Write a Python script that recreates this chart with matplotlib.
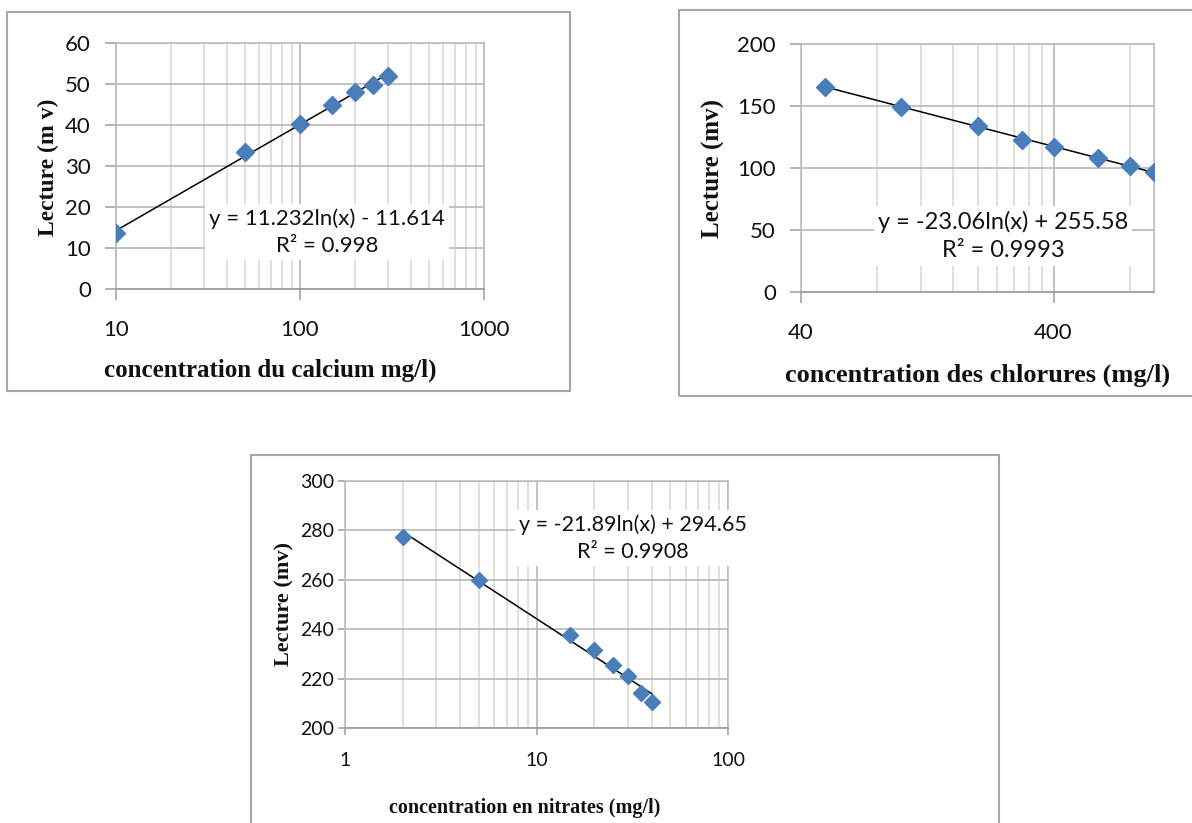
import numpy as np
import matplotlib
matplotlib.use("Agg")
import matplotlib.pyplot as plt
from matplotlib.patches import Rectangle
from matplotlib.ticker import FixedLocator, NullFormatter

# ---------------- data ----------------
ca_conc = [10, 50, 100, 150, 200, 250, 300]
ca_read = [13.7, 33.3, 40.2, 45.0, 48.0, 49.8, 51.9]
ca_coef = (11.232, -11.614)
ca_eq = "y = 11.232ln(x) - 11.614\nR² = 0.998"

cl_conc = [50, 100, 200, 300, 400, 600, 800, 1000]
cl_read = [165, 149, 134, 122.4, 117, 108, 101.5, 96.5]
cl_coef = (-23.06, 255.58)
cl_eq = "y = -23.06ln(x) + 255.58\nR² = 0.9993"

no_conc = [2, 5, 15, 20, 25, 30, 35, 40]
no_read = [277.4, 259.8, 237.5, 231.6, 225.6, 221.1, 214.0, 210.5]
no_coef = (-21.89, 294.65)
no_eq = "y = -21.89ln(x) + 294.65\nR² = 0.9908"

W, H = 1192, 823
fig = plt.figure(figsize=(W / 100, H / 100), dpi=100)
fig.patch.set_facecolor("white")

TICKFONT = "Lato"
LABFONT = "Liberation Serif"
BLUE = "#4a7ebb"


def frame(x0, y0, x1, y1):
    fig.patches.append(Rectangle((x0 / W, 1 - y1 / H), (x1 - x0) / W, (y1 - y0) / H,
                                 transform=fig.transFigure, fill=False,
                                 edgecolor="#a6a6a6", lw=1.5, zorder=0))


def axes_px(l, t, r, b):
    return fig.add_axes([l / W, 1 - b / H, (r - l) / W, (b - t) / H])


def setup(ax, xlim, ylim, xmajor, xminor, yticks, xlabels, size, ticklen, ypad, xpad):
    ax.set_xscale("log")
    ax.set_xlim(*xlim)
    ax.set_ylim(*ylim)
    ax.xaxis.set_major_locator(FixedLocator(xmajor))
    ax.xaxis.set_minor_locator(FixedLocator(xminor))
    ax.xaxis.set_minor_formatter(NullFormatter())
    ax.set_xticklabels(xlabels)
    ax.set_yticks(yticks)
    ax.set_yticklabels([str(v) for v in yticks])
    ax.grid(True, which="major", color="#bcbcbc", lw=1.3, zorder=0)
    ax.grid(True, which="minor", axis="x", color="#d6d6d6", lw=1.1, zorder=0)
    ax.set_axisbelow(True)
    for s in ax.spines.values():
        s.set_color("#bcbcbc")
        s.set_linewidth(1.2)
    ax.spines["bottom"].set_color("#9a9a9a")
    ax.tick_params(axis="both", which="major", direction="out", length=ticklen,
                   color="#a6a6a6", width=1.2, labelsize=size)
    ax.tick_params(axis="y", pad=ypad)
    ax.tick_params(axis="x", pad=xpad)
    ax.tick_params(axis="x", which="minor", length=0)
    for lab in ax.get_xticklabels() + ax.get_yticklabels():
        lab.set_fontfamily(TICKFONT)
        lab.set_color("#111111")


def draw(ax, x, y, coef, ms=9):
    xs = np.geomspace(min(x), max(x), 100)
    ax.plot(xs, coef[0] * np.log(xs) + coef[1], color="black", lw=1.1, zorder=3)
    ax.plot(x, y, linestyle="none", marker="D", markersize=ms, color=BLUE,
            markeredgecolor=BLUE, zorder=4)


def eqtext(x, y, s, size):
    fig.text(x / W, 1 - y / H, s, ha="center", va="center", fontsize=size,
             fontfamily=TICKFONT, color="#111111", linespacing=1.45,
             bbox=dict(facecolor="white", edgecolor="none", pad=3), zorder=5)


def label(x, y, s, size, rot=0):
    fig.text(x / W, 1 - y / H, s, ha="center", va="center", rotation=rot,
             fontsize=size, fontweight="bold", fontfamily=LABFONT, color="#111111")


# ---------------- panel 1 : calcium ----------------
frame(7, 12, 570, 391)
ax1 = axes_px(116, 43, 484, 289)
setup(ax1, (10, 1000), (0, 60), [10, 100, 1000],
      [20, 30, 40, 50, 60, 70, 80, 90, 200, 300, 400, 500, 600, 700, 800, 900],
      list(range(0, 61, 10)), ["10", "100", "1000"], 16, 8, 10, 14)
draw(ax1, ca_conc, ca_read, ca_coef)
eqtext(327, 232, ca_eq, 16)
label(270, 370, "concentration du calcium mg/l)", 18)
label(48, 167, "Lecture (m v)", 17, 90)

# ---------------- panel 2 : chlorures ----------------
frame(679, 10, 1200, 396)
ax2 = axes_px(801, 44, 1154, 292)
setup(ax2, (40, 1000), (0, 200), [40, 400],
      [80, 120, 160, 200, 240, 280, 320, 360, 800],
      list(range(0, 201, 50)), ["40", "400"], 16, 8, 10, 14)
draw(ax2, cl_conc, cl_read, cl_coef)
eqtext(1003, 236, cl_eq, 17)
label(978, 375, "concentration des chlorures (mg/l)", 19)
label(713, 168, "Lecture (mv)", 18, 90)

# ---------------- panel 3 : nitrates ----------------
frame(251, 455, 999, 830)
ax3 = axes_px(345, 481, 728, 728)
setup(ax3, (1, 100), (200, 300), [1, 10, 100],
      [2, 3, 4, 5, 6, 7, 8, 9, 20, 30, 40, 50, 60, 70, 80, 90],
      list(range(200, 301, 20)), ["1", "10", "100"], 14, 5, 3, 12)
draw(ax3, no_conc, no_read, no_coef, ms=8)
eqtext(633, 538, no_eq, 15.5)
label(525, 808, "concentration en nitrates (mg/l)", 14.5)
label(284, 604, "Lecture (mv)", 16, 90)

fig.savefig("out.png", dpi=100, facecolor="white")
